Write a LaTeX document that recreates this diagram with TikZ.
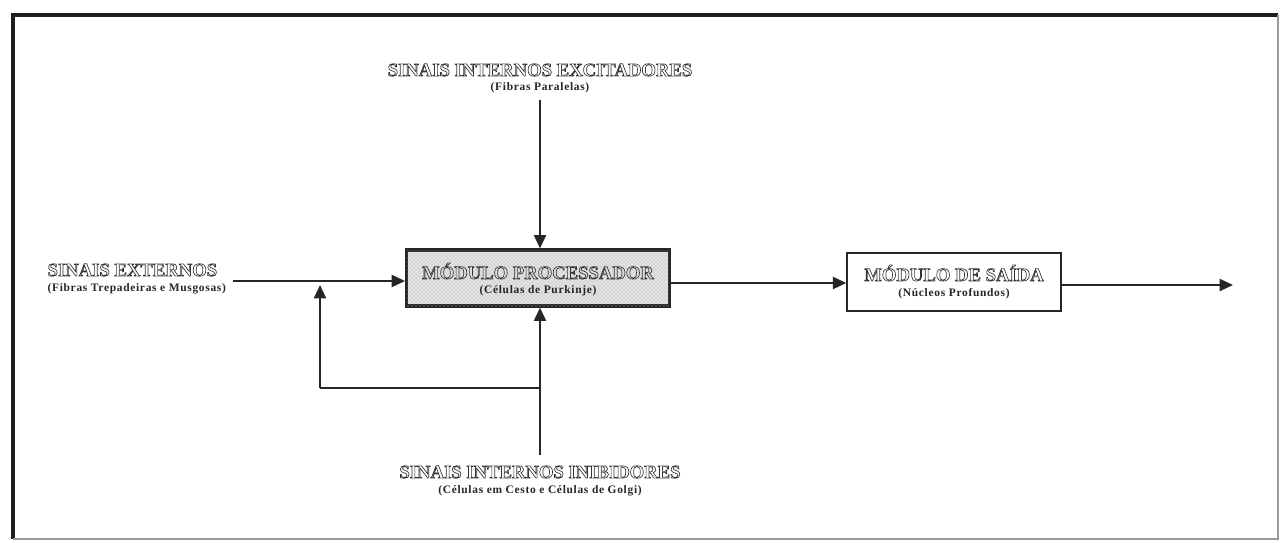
\documentclass[tikz,border=0pt]{standalone}
\usepackage{fontspec}
\setmainfont{Liberation Serif}
\usetikzlibrary{arrows.meta,patterns}
% hollow (outlined) lettering for the block titles
\newcommand{\hollow}[1]{\special{pdf:literal direct 1 Tr 0.5 w}#1\special{pdf:literal direct 0 Tr}}
\tikzset{
  conn/.style={line width=1.6pt, draw=black!85, -{Triangle[length=10pt,width=9pt]}},
  plain/.style={line width=1.6pt, draw=black!85},
  lbl/.style={align=center, inner sep=1pt, text=black!80, font=\bfseries\fontsize{14}{16}\selectfont},
  sub/.style={text=black!85, font=\bfseries\fontsize{8.6}{10}\selectfont\addfontfeatures{LetterSpace=6}},
  procbox/.style={draw=black!85, line width=2.4pt, minimum width=197pt, minimum height=42pt, fill=gray!22, postaction={pattern=crosshatch dots, pattern color=gray!70}},
  outbox/.style={draw=black!85, line width=1.6pt, minimum width=160pt, minimum height=43pt, fill=white}
}
\begin{document}
\begin{tikzpicture}[x=0.75pt,y=-0.75pt]
\useasboundingbox (0,0) rectangle (1280,542);
% outer frame
\draw[line width=3.5pt, draw=black!88] (13,539) -- (13,15) -- (1278,15);
\draw[line width=1pt, draw=black!40] (1278,15) -- (1278,539) -- (13,539);

% blocks
\node[procbox] (proc) at (538,278) {};
\node[lbl] at (538,271) {\hollow{MÓDULO PROCESSADOR}};
\node[lbl, sub] at (538,291) {(Células de Purkinje)};

\node[outbox] (out) at (954,282) {};
\node[lbl] at (954,273) {\hollow{MÓDULO DE SAÍDA}};
\node[lbl, sub] at (954,294) {(Núcleos Profundos)};

% input labels
\node[lbl] (exc) at (540,70) {\hollow{SINAIS INTERNOS EXCITADORES}};
\node[lbl, sub] (excsub) at (540,88) {(Fibras Paralelas)};

\node[lbl, anchor=west] (ext) at (46,270) {\hollow{SINAIS EXTERNOS}};
\node[lbl, sub, anchor=west] (extsub) at (46,289) {(Fibras Trepadeiras e Musgosas)};

\node[lbl] (inh) at (540,472) {\hollow{SINAIS INTERNOS INIBIDORES}};
\node[lbl, sub] (inhsub) at (540,491) {(Células em Cesto e Células de Golgi)};

% connection points
\coordinate (extend) at (233,281);
\coordinate (excstart) at (540,100);
\coordinate (inhstart) at (540,455);
\coordinate (branch) at (540,388);
\coordinate (corner) at (320,388);
\coordinate (fbtip) at (320,285);
\coordinate (outend) at (1233,285);

% connectors
\draw[conn] (excstart) -- (proc.north -| excstart);
\draw[conn] (extend) -- (proc.west |- extend);
\draw[conn] (inhstart) -- (proc.south -| inhstart);
\draw[plain] (branch) -- (corner);
\draw[conn] (corner) -- (fbtip);
\draw[conn] (proc.east |- 0,283) -- (out.west |- 0,283);
\draw[conn] (out.east |- outend) -- (outend);
\end{tikzpicture}
\end{document}
